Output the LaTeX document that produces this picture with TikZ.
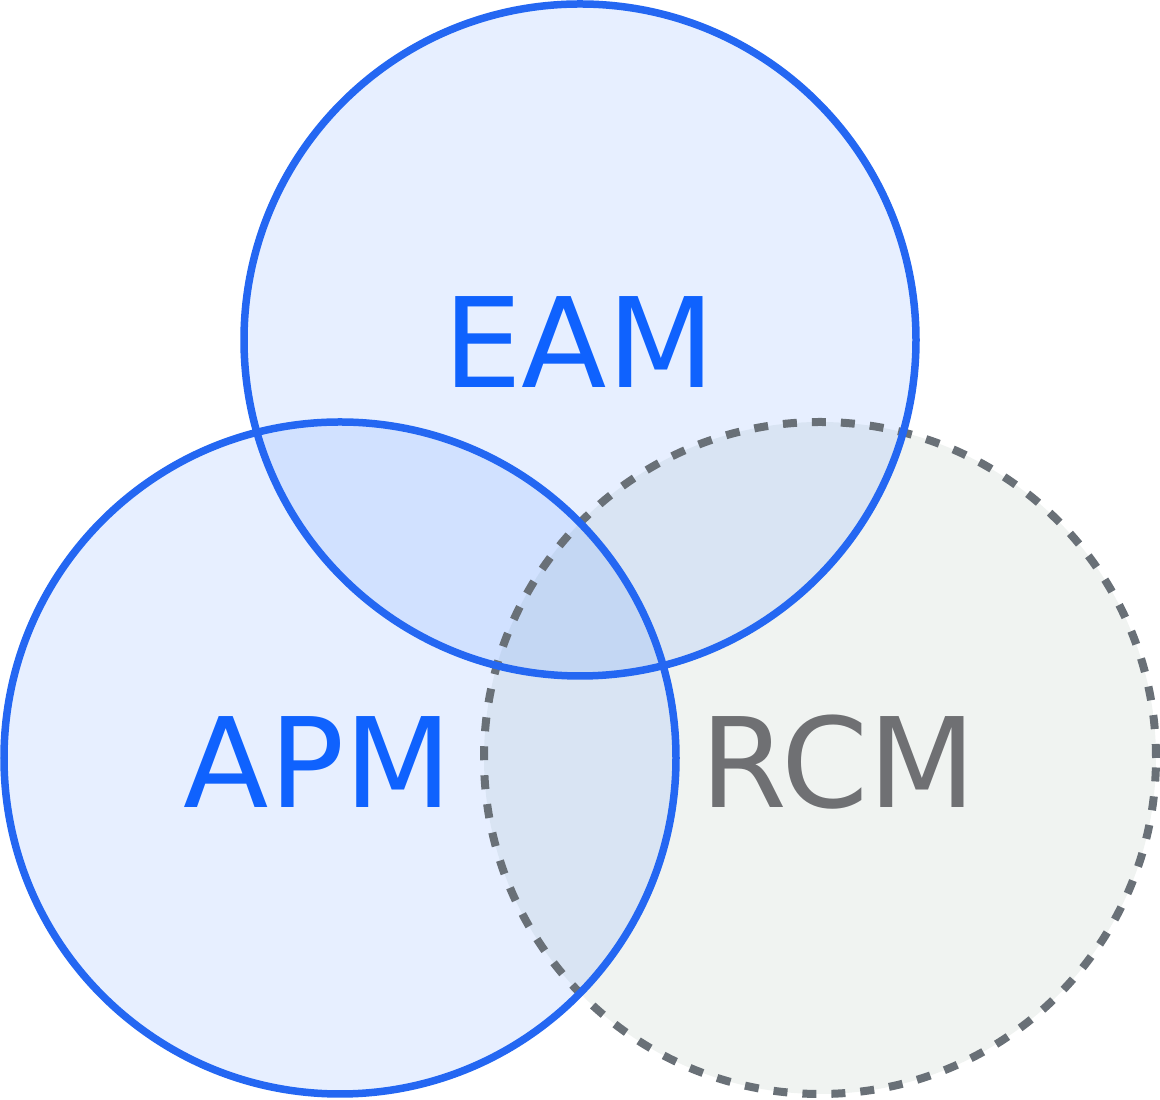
\documentclass[tikz,border=0pt]{standalone}
\usepackage{fontspec}
\setmainfont{DejaVu Sans}
\definecolor{setblue}{HTML}{0F62FE}
\definecolor{ringblue}{HTML}{2467F2}
\definecolor{setgrey}{HTML}{6F7073}
\definecolor{dashgrey}{HTML}{697077}
\definecolor{greyback}{HTML}{A8B8AE}
\tikzset{
	setfill/.style={fill=setblue, fill opacity=0.1},
	greyfill/.style={fill=greyback, fill opacity=0.17},
	ring/.style={line width=0.075cm, color=ringblue},
	dashring/.style={line width=0.08cm, color=dashgrey, dash pattern=on 0.14cm off 0.15cm},
	setlabel/.style={font=\fontsize{35.5}{40}\selectfont, inner sep=0pt}
}

\begin{document}
\begin{tikzpicture}
		%%%%% START %%%%%
		\useasboundingbox (0, 0) rectangle (11.6, 11);
		
		\coordinate (eam) at (5.8, 7.6);
		\coordinate (apm) at (3.4, 3.42);
		\coordinate (rcm) at (8.2, 3.42);
		
		\fill[greyfill] (rcm) circle (3.36);
		\fill[setfill] (eam) circle (3.36);
		\fill[setfill] (apm) circle (3.36);
		
		\draw[dashring] (rcm) circle (3.36);
		\draw[ring] (eam) circle (3.36);
		\draw[ring] (apm) circle (3.36);
		
		\node[setlabel, color=setblue] (eamlabel) at (5.79, 7.575) {EAM};
		\node[setlabel, color=setblue] (apmlabel) at (3.18, 3.375) {APM};
		\node[setlabel, color=setgrey] (rcmlabel) at (8.385, 3.38) {RCM};
		
		%%%%% END %%%%%
	\end{tikzpicture}
\end{document}
